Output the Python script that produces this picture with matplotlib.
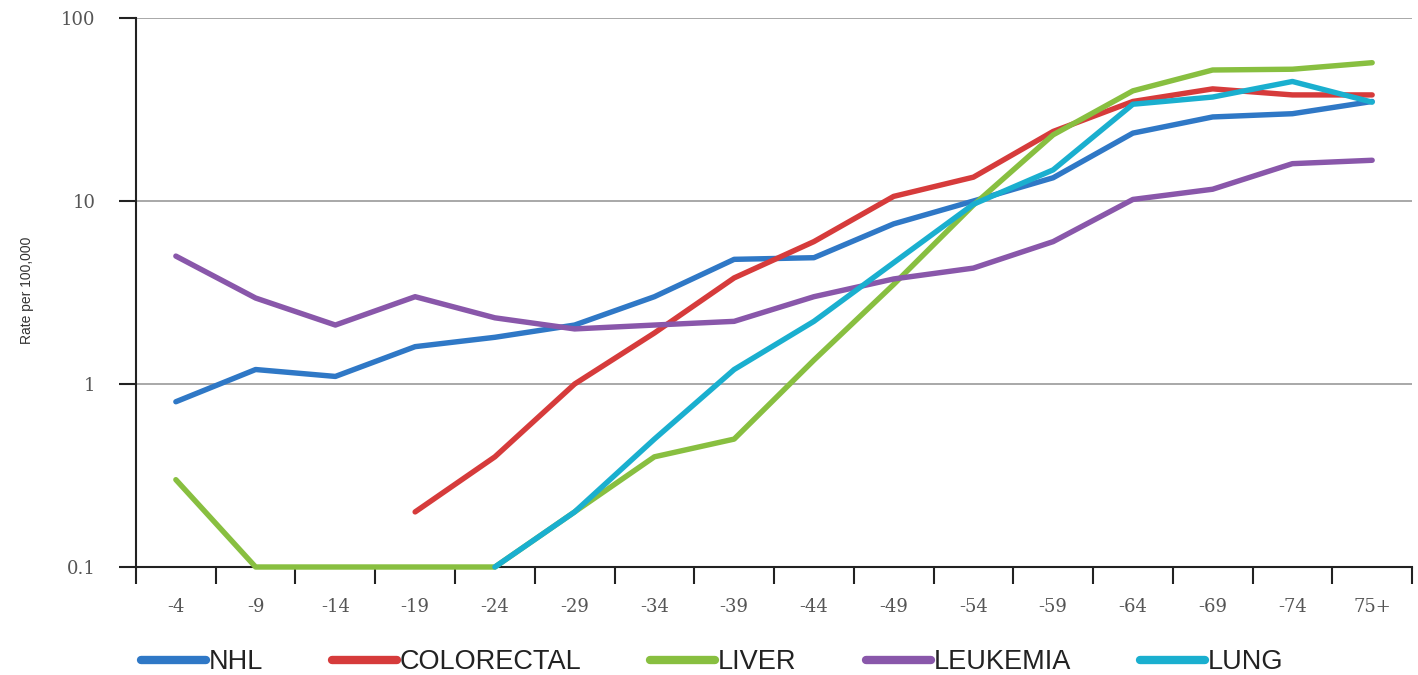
import matplotlib
matplotlib.use("Agg")
import matplotlib.pyplot as plt
import numpy as np
from matplotlib.ticker import FixedLocator, NullFormatter, FixedFormatter

age_groups = ["-4", "-9", "-14", "-19", "-24", "-29", "-34", "-39", "-44",
              "-49", "-54", "-59", "-64", "-69", "-74", "75+"]

nhl = [0.8, 1.2, 1.1, 1.6, 1.8, 2.1, 3.0, 4.8, 4.9, 7.5, 10.0, 13.4, 23.5, 28.8, 30.0, 35.0]
colorectal = [None, None, None, 0.2, 0.4, 1.0, 1.9, 3.8, 6.0, 10.6, 13.5, 24.0, 35.0, 41.0, 38.0, 38.0]
liver = [0.3, 0.1, 0.1, 0.1, 0.1, 0.2, 0.4, 0.5, 1.35, 3.5, 9.5, 23.0, 40.0, 52.0, 52.5, 57.0]
leukemia = [5.0, 2.95, 2.1, 3.0, 2.3, 2.0, 2.1, 2.2, 3.0, 3.75, 4.3, 6.0, 10.2, 11.6, 16.0, 16.7]
lung = [None, None, None, None, 0.1, 0.2, 0.5, 1.2, 2.2, 4.6, 9.6, 14.8, 33.8, 37.0, 45.0, 34.7]

series_names = ["NHL", "COLORECTAL", "LIVER", "LEUKEMIA", "LUNG"]
series_values = [nhl, colorectal, liver, leukemia, lung]
colors = ["#2F78C6", "#D63B3B", "#88BF40", "#8957AA", "#1AAFCF"]

fig = plt.figure(figsize=(14.18, 6.75), dpi=100)
ax = fig.add_axes([0.0959, 0.16, 0.8999, 0.8133])

x = np.arange(len(age_groups))
handles = []
for name, vals, c in zip(series_names, series_values, colors):
    v = np.array([np.nan if a is None else a for a in vals], dtype=float)
    ln, = ax.plot(x, v, color=c, lw=3.9, solid_capstyle="round",
                  solid_joinstyle="round", clip_on=False, label=name, zorder=3)
    handles.append(ln)

ax.set_yscale("log")
ax.set_ylim(0.1, 100)
ax.set_xlim(-0.5, len(age_groups) - 0.5)

ax.yaxis.set_major_locator(FixedLocator([0.1, 1, 10, 100]))
ax.yaxis.set_major_formatter(FixedFormatter(["0.1", "1", "10", "100"]))
ax.yaxis.set_minor_locator(FixedLocator([]))
ax.yaxis.set_minor_formatter(NullFormatter())

ax.set_xticks(x)
ax.set_xticklabels(age_groups)
ax.set_xticks(np.arange(-0.5, len(age_groups)), minor=True)
ax.tick_params(axis="x", which="major", length=0, pad=22)
ax.tick_params(axis="x", which="minor", length=12, width=1.5, color="#222222", direction="out")
ax.tick_params(axis="y", which="major", length=12, width=1.5, color="#222222", direction="out", pad=17)

serif = ["DejaVu Serif"]
for lab in ax.get_xticklabels() + ax.get_yticklabels():
    lab.set_fontfamily(serif)
    lab.set_fontsize(13)
    lab.set_color("#555555")

ax.grid(axis="y", which="major", color="#999999", lw=1.2, zorder=1)
for s in ["top", "right"]:
    ax.spines[s].set_visible(False)
for s in ["left", "bottom"]:
    ax.spines[s].set_color("#222222")
    ax.spines[s].set_linewidth(1.5)

fig.text(27 / 1418, 1 - 290 / 675, "Rate per 100,000", rotation=90, ha="center", va="center",
         fontsize=10, color="#333333",
         fontfamily=["Liberation Sans Narrow", "Liberation Sans", "DejaVu Sans"])

leg = fig.legend(handles=handles, labels=series_names, loc="center left",
                 bbox_to_anchor=(0.082, 0.019), ncol=5, frameon=False,
                 handlelength=2.4, handletextpad=0.1, columnspacing=2.55,
                 prop={"family": ["Liberation Sans Narrow", "Liberation Sans", "DejaVu Sans"], "size": 19.5})
for lh in leg.get_lines():
    lh.set_linewidth(6)
for t in leg.get_texts():
    t.set_color("#222222")

fig.savefig("out.png", dpi=100)
